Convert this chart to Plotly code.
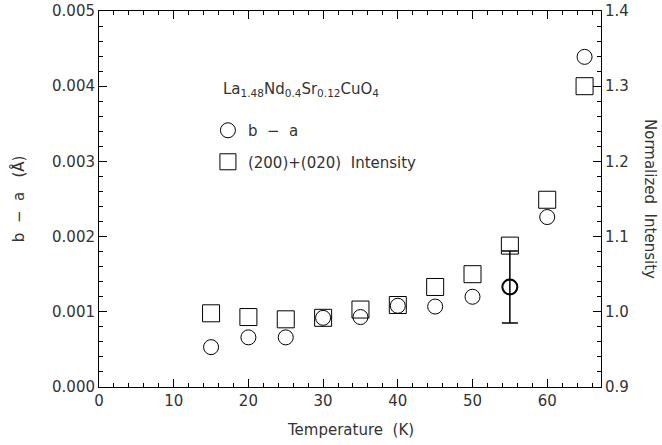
import plotly.graph_objects as go

# Temperature (K)
temperature = [15, 20, 25, 30, 35, 40, 45, 50, 55, 60, 65]
# Orthorhombic splitting b - a (Angstrom)
b_minus_a = [0.00053, 0.00066, 0.00066, 0.00092, 0.00093, 0.00108,
             0.00107, 0.00120, 0.00133, 0.00226, 0.00439]
# Normalized (200)+(020) intensity
intensity = [0.998, 0.993, 0.990, 0.992, 1.003, 1.009,
             1.033, 1.050, 1.088, 1.149, 1.300]
# Point carrying the representative error bar
err_index = 8
err_value = 0.00048

FONT = "DejaVu Sans"
INK = "#333333"
FS = 15

fig = go.Figure()

fig.add_trace(go.Scatter(
    x=temperature, y=b_minus_a, mode="markers", name="b  \u2212  a",
    legendgroup="a",
    marker=dict(symbol="circle-open", size=15, color="black",
                line=dict(width=1, color="black")),
    yaxis="y",
))
fig.add_trace(go.Scatter(
    x=[temperature[err_index]], y=[b_minus_a[err_index]], mode="markers",
    showlegend=False,
    marker=dict(symbol="circle-open", size=15, color="black",
                line=dict(width=2, color="black")),
    error_y=dict(type="data", array=[err_value], color="black",
                 thickness=1.5, width=8),
    yaxis="y",
))
fig.add_trace(go.Scatter(
    x=temperature, y=intensity, mode="markers",
    name="(200)+(020)  Intensity", legendgroup="b",
    marker=dict(symbol="square-open", size=17, color="black",
                line=dict(width=1, color="black")),
    yaxis="y2",
))

tick_common = dict(
    ticks="inside", ticklen=8, tickwidth=1, tickcolor="black",
    showline=True, linecolor="black", linewidth=1,
    showgrid=False, zeroline=False, automargin=False,
    tickfont=dict(family=FONT, size=FS, color=INK),
)

fig.update_layout(
    width=662, height=445,
    margin=dict(l=99, r=61, t=11, b=58),
    paper_bgcolor="white", plot_bgcolor="white",
    font=dict(family=FONT, color=INK),
    xaxis=dict(
        range=[0, 67.2], dtick=10, tick0=0,
        minor=dict(dtick=2, ticks="inside", ticklen=4, tickcolor="black"),
        mirror="ticks",
        **tick_common,
    ),
    yaxis=dict(
        range=[0, 0.005], dtick=0.001, tickformat=".3f",
        minor=dict(dtick=0.0002, ticks="inside", ticklen=4, tickcolor="black"),
        **tick_common,
    ),
    yaxis2=dict(
        range=[0.9, 1.4], dtick=0.1, tickformat=".1f",
        overlaying="y", side="right", anchor="x",
        minor=dict(dtick=0.02, ticks="inside", ticklen=4, tickcolor="black"),
        **tick_common,
    ),
    legend=dict(
        x=0.217, y=0.726, xanchor="left", yanchor="top",
        bgcolor="rgba(0,0,0,0)", borderwidth=0,
        font=dict(family=FONT, size=FS, color=INK),
        itemsizing="trace", tracegroupgap=9,
    ),
    showlegend=True,
)

fig.add_annotation(
    xref="paper", yref="paper", x=0.244, y=0.79, xanchor="left", yanchor="middle",
    text="La<sub>1.48</sub>Nd<sub>0.4</sub>Sr<sub>0.12</sub>CuO<sub>4</sub>",
    showarrow=False, font=dict(family=FONT, size=FS, color=INK),
)
fig.add_annotation(
    xref="paper", yref="paper", x=0.5, y=-0.114, xanchor="center", yanchor="middle",
    text="Temperature  (K)", showarrow=False,
    font=dict(family=FONT, size=FS, color=INK),
)
fig.add_annotation(
    xref="paper", yref="paper", x=-0.161, y=0.5, xanchor="center", yanchor="middle",
    text="b  \u2212  a   (\u00c5)", textangle=-90, showarrow=False,
    font=dict(family=FONT, size=FS, color=INK),
)
fig.add_annotation(
    xref="paper", yref="paper", x=1.0976, y=0.5, xanchor="center", yanchor="middle",
    text="Normalized  Intensity", textangle=90, showarrow=False,
    font=dict(family=FONT, size=FS, color=INK),
)

fig.write_html("out.html")
